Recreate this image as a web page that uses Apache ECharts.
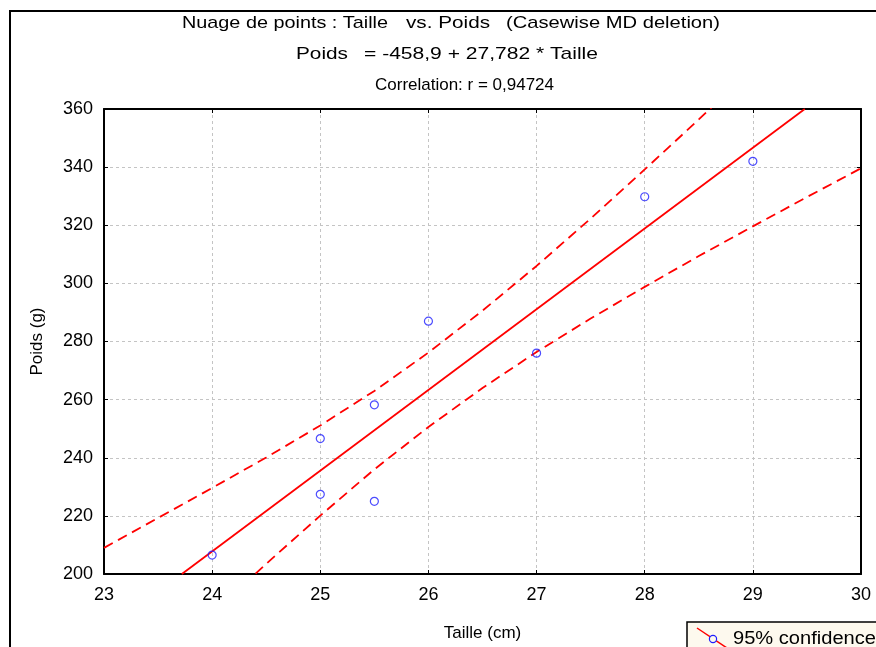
<!DOCTYPE html>
<html>
<head>
<meta charset="utf-8">
<script src="https://cdn.jsdelivr.net/npm/echarts@6/dist/echarts.min.js"></script>
<style>
html,body{margin:0;padding:0;background:#fff;}
#c{width:876px;height:647px;}
</style>
</head>
<body>
<div id="c"></div>
<script>
// ---- data ----
var taille = [24, 25, 25, 25.5, 25.5, 26, 27, 28, 29];
var poids  = [206.5, 246.6, 227.4, 258.2, 225.0, 287.0, 276.0, 329.8, 342.0];

// fitted line end points (Poids = -458,9 + 27,782 * Taille)
var fitX = [23.72, 29.48];
var fitY = [200, 360];

// 95% confidence band
var bandX     = [23, 23.5, 24, 24.5, 25, 25.5, 26, 26.5, 27, 27.5, 28, 28.5, 29, 29.5, 30];
var bandUpper = [209.0, 219.3, 229.6, 240.1, 251.1, 263.0, 276.2, 290.6, 306.0, 322.3, 339.2, 356.4, 374.0, 391.7, 409.6];
var bandLower = [151.1, 168.7, 186.2, 203.5, 220.1, 236.0, 250.6, 264.0, 276.4, 287.9, 298.8, 309.4, 319.6, 329.7, 339.6];

var xTicks = [23, 24, 25, 26, 27, 28, 29, 30];
var yTicks = [200, 220, 240, 260, 280, 300, 320, 340, 360];

var titleParts = [
  ['Nuage de points : Taille', 'vs. Poids', '(Casewise MD deletion)'],
  ['Poids', '= -458,9 + 27,782 * Taille'],
  ['Correlation: r = 0,94724']
];
var xName = 'Taille (cm)';
var yName = 'Poids (g)';
var legendLabel = '95% confidence';

// ---- helpers ----
function zip(a, b) { return a.map(function (v, i) { return [v, b[i]]; }); }
var mctx = document.createElement('canvas').getContext('2d');
function scaleFor(text, font, target) {
  mctx.font = font;
  var w = mctx.measureText(text).width;
  return w > 0 ? target / w : 1;
}

var FONT = '"Liberation Sans", Arial, sans-serif';
var titleFont = '17px ' + FONT;
// layout of title pieces: [left, width, centerY]
var titleBoxes = [
  [[182, 206, 23], [406, 84, 23], [506, 214, 23]],
  [[296, 52, 54], [364, 234, 54]],
  [[375, 179, 85]]
];

var graphics = [
  {type: 'polyline', shape: {points: [[10, 650], [10, 11], [880, 11]]},
   style: {stroke: '#000', lineWidth: 2, fill: null}, z: 100}
];
titleParts.forEach(function (parts, li) {
  parts.forEach(function (t, pi) {
    var b = titleBoxes[li][pi];
    graphics.push({
      type: 'text', x: b[0], y: b[2], scaleX: scaleFor(t, titleFont, b[1]),
      style: {text: t, font: titleFont, fill: '#000', align: 'left', verticalAlign: 'middle'},
      z: 100
    });
  });
});
// legend
graphics.push({type: 'rect', shape: {x: 687, y: 622, width: 200, height: 40},
  style: {fill: '#fdf9ee', stroke: '#000', lineWidth: 1.5}, z: 100});
graphics.push({type: 'line', shape: {x1: 697, y1: 628, x2: 727, y2: 648},
  style: {stroke: '#ff0000', lineWidth: 1.5}, z: 101});
graphics.push({type: 'circle', shape: {cx: 713, cy: 639, r: 3.6},
  style: {stroke: '#1f1fff', fill: '#fdf9ee', lineWidth: 1.2}, z: 102});
var legFont = '18px ' + FONT;
graphics.push({type: 'text', x: 733, y: 639,
  scaleX: scaleFor(legendLabel, legFont, 143),
  style: {text: legendLabel, font: legFont, fill: '#000', align: 'left', verticalAlign: 'middle'}, z: 102});

var labelStyle = {color: '#000', fontFamily: FONT, fontSize: 18};
var splitStyle = {show: true, lineStyle: {color: '#c4c4c4', type: [3, 3], width: 1}};
var axisLineStyle = {show: true, lineStyle: {color: '#000', width: 2}};
var tickStyle = {show: true, inside: true, length: 4, lineStyle: {color: '#000', width: 1}};

var chart = echarts.init(document.getElementById('c'), null, {renderer: 'canvas'});
chart.setOption({
  animation: false,
  backgroundColor: '#fff',
  grid: {left: 104, right: 15, top: 109, bottom: 71, containLabel: false},
  xAxis: [
    {type: 'value', min: xTicks[0], max: xTicks[xTicks.length - 1], interval: 1, position: 'bottom',
     axisLine: axisLineStyle, axisTick: tickStyle, splitLine: splitStyle,
     axisLabel: Object.assign({margin: 12}, labelStyle),
     name: xName, nameLocation: 'middle', nameGap: 51,
     nameTextStyle: {color: '#000', fontFamily: FONT, fontSize: 17}},
    {type: 'value', min: xTicks[0], max: xTicks[xTicks.length - 1], interval: 1, position: 'top',
     axisLine: axisLineStyle, axisTick: tickStyle, splitLine: {show: false}, axisLabel: {show: false}}
  ],
  yAxis: [
    {type: 'value', min: yTicks[0], max: yTicks[yTicks.length - 1], interval: 20, position: 'left',
     axisLine: axisLineStyle, axisTick: tickStyle, splitLine: splitStyle,
     axisLabel: Object.assign({margin: 11}, labelStyle),
     name: yName, nameLocation: 'middle', nameGap: 58, nameRotate: 90,
     nameTextStyle: {color: '#000', fontFamily: FONT, fontSize: 17}},
    {type: 'value', min: yTicks[0], max: yTicks[yTicks.length - 1], interval: 20, position: 'right',
     axisLine: axisLineStyle, axisTick: tickStyle, splitLine: {show: false}, axisLabel: {show: false}}
  ],
  series: [
    {type: 'line', data: zip(bandX, bandUpper), showSymbol: false, symbol: 'none', clip: true,
     lineStyle: {color: '#ff0000', width: 1.8, type: [10, 6]}, z: 3},
    {type: 'line', data: zip(bandX, bandLower), showSymbol: false, symbol: 'none', clip: true,
     lineStyle: {color: '#ff0000', width: 1.8, type: [10, 6]}, z: 3},
    {type: 'line', data: zip(fitX, fitY), showSymbol: false, symbol: 'none', clip: true,
     lineStyle: {color: '#ff0000', width: 1.8}, z: 4},
    {type: 'scatter', data: zip(taille, poids), symbol: 'circle', symbolSize: 8,
     itemStyle: {color: 'rgba(255,255,255,0)', borderColor: '#1f1fff', borderWidth: 1.2}, z: 5}
  ],
  graphic: graphics
});
</script>
</body>
</html>
